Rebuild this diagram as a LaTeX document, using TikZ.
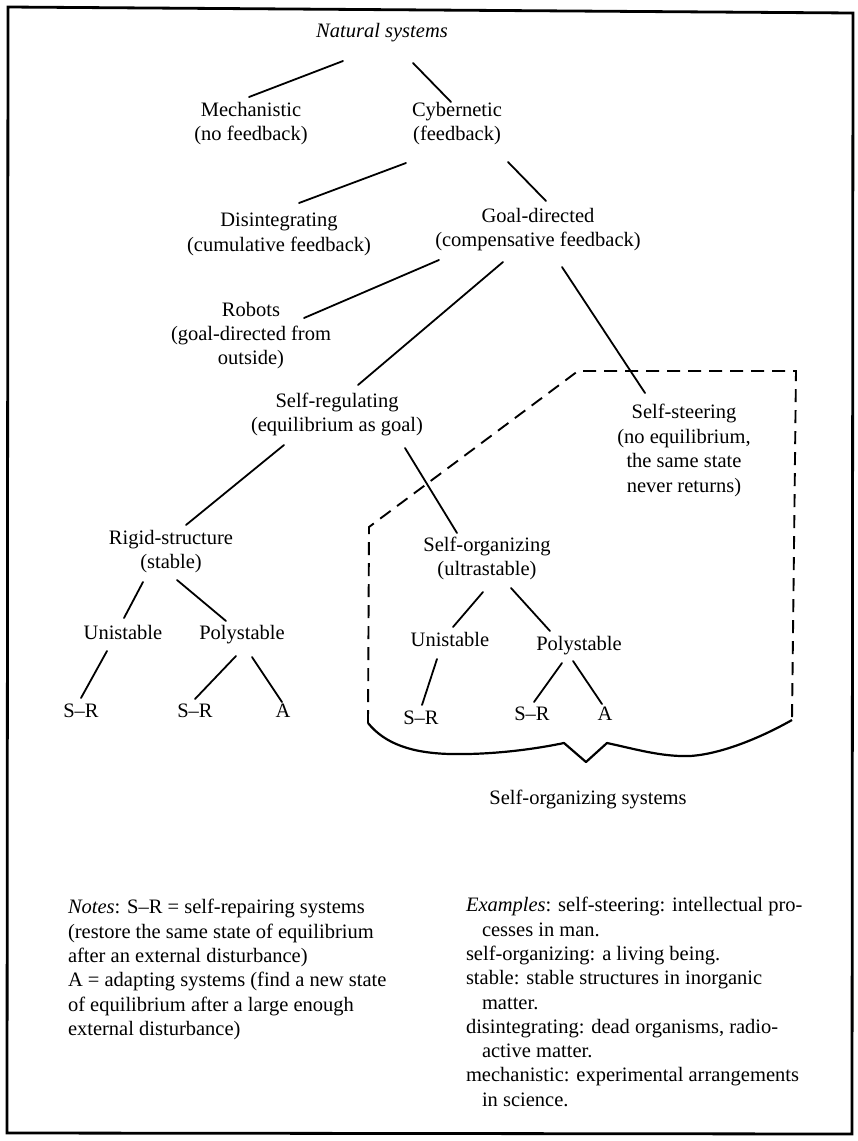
\documentclass[tikz,border=0pt]{standalone}
\usepackage{fontspec}
\setmainfont{Liberation Serif}
\begin{document}
\begin{tikzpicture}[x=1pt,y=-1pt,
  every node/.style={inner sep=0pt, outer sep=0pt},
  lbl/.style={align=center, font=\fontsize{20.5}{24.4}\selectfont,
    execute at begin node=\strut, execute at end node=\strut},
  txt/.style={align=left, font=\fontsize{20.5}{24.3}\selectfont,
    execute at begin node=\strut, execute at end node=\strut},
  conn/.style={line width=1.8pt, line cap=round},
  dashline/.style={line width=1.9pt, dash pattern=on 13pt off 8pt},
  bracel/.style={line width=2.2pt, line join=round},
  frame/.style={line width=2.8pt, line join=miter}]

\useasboundingbox (0,0) rectangle (858,1141);

% outer frame
\draw[frame] (8,7) -- (853,13) -- (852,1134) -- (7,1133) -- cycle;

% tree labels
\node[lbl] (nat)    at (382,33)  {\textit{Natural systems}};
\node[lbl] (mech)   at (251,125) {Mechanistic\\(no feedback)};
\node[lbl] (cyb)    at (457,125) {Cybernetic\\(feedback)};
\node[lbl] (dis)    at (279,236) {Disintegrating\\(cumulative feedback)};
\node[lbl] (goal)   at (538,231) {Goal-directed\\(compensative feedback)};
\node[lbl] (rob)    at (251,337) {Robots\\(goal-directed from\\outside)};
\node[lbl] (sreg)   at (337,416) {Self-regulating\\(equilibrium as goal)};
\node[lbl] (ssteer) at (684,452) {Self-steering\\(no equilibrium,\\the same state\\never returns)};
\node[lbl] (rigid)  at (171,553) {Rigid-structure\\(stable)};
\node[lbl] (sorg)   at (487,560) {Self-organizing\\(ultrastable)};
\node[lbl] (uniL)   at (123,635) {Unistable};
\node[lbl] (polyL)  at (242,635) {Polystable};
\node[lbl] (srLa)   at (81,713)  {S\textendash R};
\node[lbl] (srLb)   at (195,713) {S\textendash R};
\node[lbl] (aL)     at (283,713) {A};
\node[lbl] (uniR)   at (450,642) {Unistable};
\node[lbl] (polyR)  at (579,646) {Polystable};
\node[lbl] (srRa)   at (421,720) {S\textendash R};
\node[lbl] (srRb)   at (532,716) {S\textendash R};
\node[lbl] (aR)     at (605,716) {A};
\node[lbl] (sosys)  at (588,800) {Self-organizing systems};

% tree branches
\draw[conn] ([shift={(-39,28)}]nat.center)   -- ([shift={(-2,-28)}]mech.center);
\draw[conn] ([shift={(31,30)}]nat.center)    -- ([shift={(-6,-23)}]cyb.center);
\draw[conn] ([shift={(-51,38)}]cyb.center)   -- ([shift={(20,-33)}]dis.center);
\draw[conn] ([shift={(51,37)}]cyb.center)    -- ([shift={(8,-30)}]goal.center);
\draw[conn] ([shift={(-99,29)}]goal.center)  -- ([shift={(53,-19)}]rob.center);
\draw[conn] ([shift={(-35,31)}]goal.center)  -- ([shift={(21,-31)}]sreg.center);
\draw[conn] ([shift={(24,36)}]goal.center)   -- ([shift={(-39,-59)}]ssteer.center);
\draw[conn] ([shift={(-53,29)}]sreg.center)  -- ([shift={(15,-28)}]rigid.center);
\draw[conn] ([shift={(68,32)}]sreg.center)   -- ([shift={(-30,-27)}]sorg.center);
\draw[conn] ([shift={(-28,29)}]rigid.center) -- ([shift={(1,-17)}]uniL.center);
\draw[conn] ([shift={(6,27)}]rigid.center)   -- ([shift={(-16,-14)}]polyL.center);
\draw[conn] ([shift={(-16,16)}]uniL.center)  -- ([shift={(0,-15)}]srLa.center);
\draw[conn] ([shift={(-6,21)}]polyL.center)  -- ([shift={(0,-14)}]srLb.center);
\draw[conn] ([shift={(10,22)}]polyL.center)  -- ([shift={(-1,-11)}]aL.center);
\draw[conn] ([shift={(-4,32)}]sorg.center)   -- ([shift={(3,-15)}]uniR.center);
\draw[conn] ([shift={(24,28)}]sorg.center)   -- ([shift={(-29,-15)}]polyR.center);
\draw[conn] ([shift={(-13,17)}]uniR.center)  -- ([shift={(1,-15)}]srRa.center);
\draw[conn] ([shift={(-17,17)}]polyR.center) -- ([shift={(2,-14)}]srRb.center);
\draw[conn] ([shift={(-6,15)}]polyR.center)  -- ([shift={(-3,-12)}]aR.center);

% dashed enclosure of the self-organizing group
\coordinate (dbl) at (368,723);
\coordinate (dtl) at (369,527);
\coordinate (dtc) at (578,371);
\coordinate (dtr) at (796,371);
\coordinate (dbr) at (792,720);
\draw[dashline] (dbl) -- (dtl) -- (dtc) -- (dtr) -- (dbr);

% brace closing the group
\coordinate (btip) at (586,762);
\draw[bracel] (dbl) .. controls (385,744) and (412,753) .. (450,754)
  .. controls (500,755) and (545,747) .. (564,743) -- (btip) -- (607,743)
  .. controls (635,749) and (662,757) .. (690,756)
  .. controls (722,754) and (762,737) .. (dbr);

% notes and examples
\node[txt, anchor=west] (notes) at (68,971) {%
\textit{Notes}: S\textendash R = self-repairing systems\\
(restore the same state of equilibrium\\
after an external disturbance)\\
A = adapting systems (find a new state\\
of equilibrium after a large enough\\
external disturbance)};

\node[txt, anchor=west] (examples) at (466,1005.5) {%
\textit{Examples}: self-steering: intellectual pro-\\
\hspace*{16pt}cesses in man.\\
self-organizing: a living being.\\
stable: stable structures in inorganic\\
\hspace*{16pt}matter.\\
disintegrating: dead organisms, radio-\\
\hspace*{16pt}active matter.\\
mechanistic: experimental arrangements\\
\hspace*{16pt}in science.};

\end{tikzpicture}
\end{document}
